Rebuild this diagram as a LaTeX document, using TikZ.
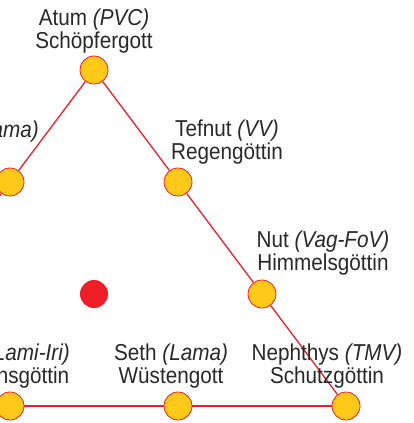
\documentclass[tikz,border=0pt]{standalone}
\usepackage{fontspec}
\setmainfont{Liberation Sans}[FakeStretch=0.9]
\definecolor{nodeyellow}{RGB}{255,201,26}
\definecolor{linered}{RGB}{236,30,40}
\definecolor{txt}{RGB}{40,40,40}
\begin{document}
\begin{tikzpicture}[x=1pt,y=-1pt,
  god/.style={circle, fill=nodeyellow, draw=linered, line width=0.8pt, minimum size=28pt, inner sep=0pt},
  centre/.style={circle, fill=linered, draw=none, minimum size=28pt, inner sep=0pt},
  link/.style={draw=linered, line width=1.3pt},
  lab/.style={font=\fontsize{23}{23}\selectfont, text=txt, align=center, inner sep=0pt, text depth=0pt, anchor=south}]
\useasboundingbox (0,0) rectangle (413,423);
% nodes
\node[god] (atum) at (94,70) {};
\node[god] (shu) at (10,182) {};
\node[god] (tefnut) at (178,182) {};
\node[god] (nut) at (262,294) {};
\node[god] (nephthys) at (346,406) {};
\node[god] (seth) at (178,406) {};
\node[god] (isis) at (10,406) {};
\node[centre] (mid) at (94,294) {};
\coordinate (geb) at (-74,294);
\coordinate (osiris) at (-158,406);
% connectors
\draw[link] (atum) -- (shu);
\draw[link] (shu) -- (geb);
\draw[link] (atum) -- (tefnut);
\draw[link] (tefnut) -- (nut);
\draw[link] (nut) -- (nephthys);
\draw[link] (nephthys) -- (seth);
\draw[link] (seth) -- (isis);
\draw[link] (isis) -- (osiris);
% labels
\node[lab] (atumL) at (94,49) {Atum \textit{(PVC)}\\Schöpfergott};
\node[lab, anchor=base east] (shuL) at (39,137) {Schu \textit{(Lama)}};
\node[lab] (tefnutL) at (227,160) {Tefnut \textit{(VV)}\\Regengöttin};
\node[lab] (nutL) at (323,271) {Nut \textit{(Vag-FoV)}\\Himmelsgöttin};
\node[lab] (nephthysL) at (327,384) {Nephthys \textit{(TMV)}\\Schutzgöttin};
\node[lab] (sethL) at (171,384) {Seth \textit{(Lama)}\\Wüstengott};
\node[lab] (isisL) at (10,384) {Isis \textit{(Lami-Iri)}\\Lebensgöttin};
\end{tikzpicture}
\end{document}
